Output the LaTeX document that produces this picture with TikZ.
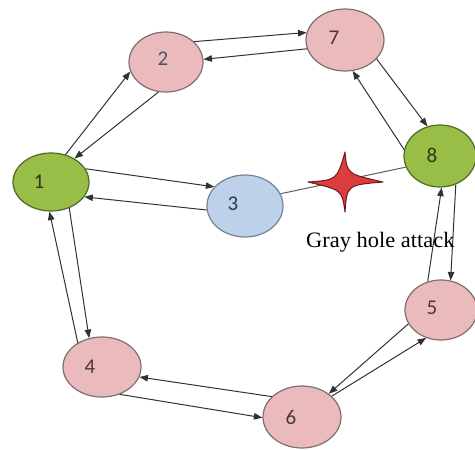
\documentclass[tikz,border=0pt]{standalone}
\usepackage{fontspec}
\setmainfont{Liberation Serif}
\newfontfamily\labfont{Carlito}
\usetikzlibrary{shapes.geometric,arrows.meta}
\definecolor{pinkfill}{RGB}{234,186,189}
\definecolor{greenfill}{RGB}{152,190,72}
\definecolor{bluefill}{RGB}{190,209,234}
\definecolor{pinkline}{RGB}{125,110,112}
\definecolor{greenline}{RGB}{80,105,40}
\definecolor{blueline}{RGB}{115,130,150}
\definecolor{edgecol}{RGB}{50,50,50}
\definecolor{labcol}{RGB}{75,55,55}
\definecolor{starfill}{RGB}{218,62,62}
\definecolor{starline}{RGB}{110,25,30}
\tikzset{
  x=1pt, y=-1pt,
  nodeshape/.style={ellipse, inner sep=0pt, line width=1.2pt},
  pinknode/.style={nodeshape, fill=pinkfill, draw=pinkline},
  greennode/.style={nodeshape, fill=greenfill, draw=greenline},
  bluenode/.style={nodeshape, fill=bluefill, draw=blueline},
  lab/.style={font=\labfont\fontsize{21}{22}\selectfont, text=labcol},
  edge/.style={draw=edgecol, line width=1pt, -{Triangle[length=8.5pt,width=6.5pt]}},
  plainedge/.style={draw=edgecol!80, line width=1pt},
}
\begin{document}
\begin{tikzpicture}
\useasboundingbox (0,0) rectangle (475,450);
% nodes
\node[greennode, minimum width=76pt, minimum height=58pt] (n1) at (51,182) {};
\node[pinknode, minimum width=74pt, minimum height=60pt] (n2) at (166,62) {};
\node[bluenode, minimum width=76pt, minimum height=62pt] (n3) at (245,206) {};
\node[pinknode, minimum width=78pt, minimum height=60pt] (n4) at (102,367) {};
\node[pinknode, minimum width=72pt, minimum height=60pt] (n5) at (441,310) {};
\node[pinknode, minimum width=78pt, minimum height=62pt] (n6) at (302,417) {};
\node[pinknode, minimum width=78pt, minimum height=62pt] (n7) at (345,40) {};
\node[greennode, minimum width=72pt, minimum height=62pt] (n8) at (440,156) {};
% labels
\node[lab, text=greenline!55!black] (l1) at (39,182) {1};
\node[lab, text={rgb,255:red,70;green,85;blue,110}] (l2) at (163,59) {2};
\node[lab, text={rgb,255:red,45;green,55;blue,85}] (l3) at (233,204) {3};
\node[lab] (l4) at (90,367) {4};
\node[lab] (l5) at (432,308) {5};
\node[lab] (l6) at (291,417) {6};
\node[lab] (l7) at (334,38) {7};
\node[lab, text=greenline!55!black] (l8) at (432,155) {8};
% edges
\draw[edge] (n1.62) -- (n2.195);
\draw[edge] (n2.256) -- (n1.45);
\draw[edge] (n2.36) -- (n7.169);
\draw[edge] (n7.193) -- (n2.4);
\draw[edge] (n7.-31) -- (n8.113);
\draw[edge] (n8.170) -- (n7.-76);
\draw[edge] (n1.21) -- (n3.148);
\draw[edge] (n3.186) -- (n1.-24);
\draw[plainedge] (n3.19) -- (n8.198);
\draw[edge] (n1.-55) -- (n4.114);
\draw[edge] (n4.135) -- (n1.-93);
\draw[edge] (n8.-61) -- (n5.72);
\draw[edge] (n5.115) -- (n8.-87);
\draw[edge] (n5.203) -- (n6.41);
\draw[edge] (n6.35) -- (n5.242);
\draw[edge] (n6.146) -- (n4.-15);
\draw[edge] (n4.-57) -- (n6.181);
% star
\coordinate (sc) at (345,182);
\draw[fill=starfill, draw=starline, line width=1pt, line join=round]
  ([shift={(-37,0)}]sc) .. controls ([shift={(-8,-2)}]sc) .. ([shift={(0,-30)}]sc)
  .. controls ([shift={(2,-8)}]sc) .. ([shift={(38,0)}]sc)
  .. controls ([shift={(2,3)}]sc) .. ([shift={(0,30)}]sc)
  .. controls ([shift={(-3,8)}]sc) .. cycle;
% text
\node[font=\fontsize{22}{24}\selectfont, anchor=base west, inner sep=0pt, xscale=1.02] (gha) at (306,247) {Gray hole attack};
\end{tikzpicture}
\end{document}
